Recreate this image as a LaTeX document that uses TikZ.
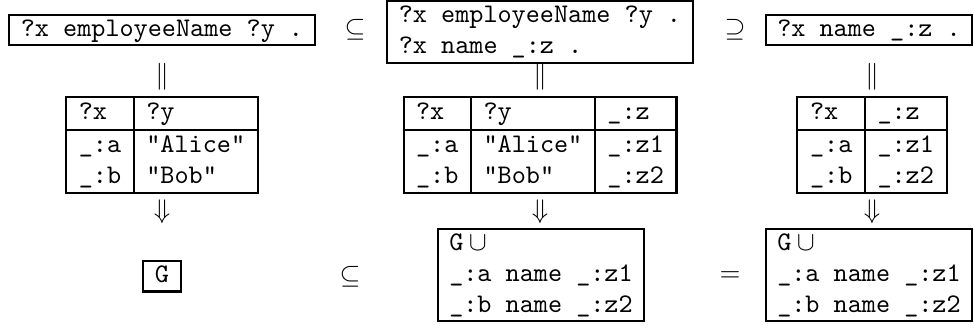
\documentclass[tikz,border=0pt]{standalone}
\usepackage{array}
\setlength\tabcolsep{4.3pt}
\setlength\arrayrulewidth{0.75pt}
\renewcommand\arraystretch{0.96}
\tikzset{
  pattbox/.style={draw, line width=0.75pt, inner sep=0pt, font=\ttfamily},
  restab/.style={inner sep=0pt, font=\ttfamily},
  rel/.style={inner sep=0pt}
}
\begin{document}
\begin{tikzpicture}[x=0.372pt, y=-0.372pt]
    \useasboundingbox (0,0) rectangle (974,328);

    % patterns
    \node[pattbox] (q1) at (162,30) {\begin{tabular}{l}?x employeeName ?y .\end{tabular}};
    \node[pattbox] (q2) at (540,32) {\begin{tabular}{l}?x employeeName ?y .\\ ?x name \_:z .\end{tabular}};
    \node[pattbox] (q3) at (869,30) {\begin{tabular}{l}?x name \_:z .\end{tabular}};
    \node[rel] (sub1) at (355,30) {$\subseteq$};
    \node[rel] (sup1) at (735,30) {$\supseteq$};

    % solutions
    \node[restab] (t1) at (162,145) {\begin{tabular}{|l|l|}\hline
        ?x & ?y\\\hline
        \_:a & "Alice"\\
        \_:b & "Bob"\\\hline
    \end{tabular}};
    \node[restab] (t2) at (540,145) {\begin{tabular}{|l|l|l|}\hline
        ?x & ?y & \_:z\\\hline
        \_:a & "Alice" & \_:z1\\
        \_:b & "Bob" & \_:z2\\\hline
    \end{tabular}};
    \node[restab] (t3) at (872,145) {\begin{tabular}{|l|l|}\hline
        ?x & \_:z\\\hline
        \_:a & \_:z1\\
        \_:b & \_:z2\\\hline
    \end{tabular}};

\foreach \c/\n in {162/1,540/2,872/3}
{
    \node[rel] (eq\n) at (\c,77) {$\|$};
    \node[rel] (dn\n) at (\c,212) {$\Downarrow$};
}

    % graphs
    \node[pattbox] (g1) at (162,276) {\begin{tabular}{l}G\end{tabular}};
    \node[pattbox] (g2) at (541,275) {\begin{tabular}{l}G\hspace{2pt}$\cup$\\ \_:a name \_:z1\\ \_:b name \_:z2\end{tabular}};
    \node[pattbox] (g3) at (869,275) {\begin{tabular}{l}G\hspace{2pt}$\cup$\\ \_:a name \_:z1\\ \_:b name \_:z2\end{tabular}};
    \node[rel] (sub2) at (350,277) {$\subseteq$};
    \node[rel] (eqg) at (730,277) {$=$};

\end{tikzpicture}
\end{document}
